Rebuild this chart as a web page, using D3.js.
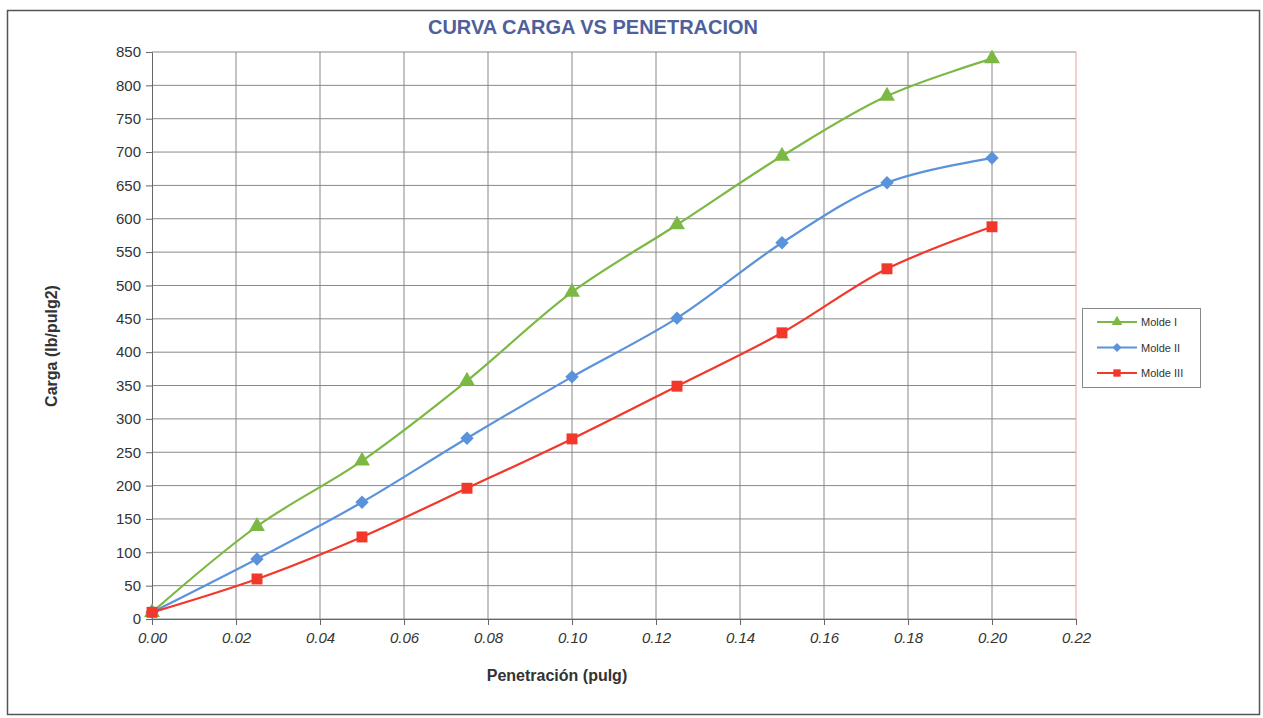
<!DOCTYPE html>
<html><head><meta charset="utf-8">
<script src="https://cdn.jsdelivr.net/npm/d3@7"></script>
<style>body{margin:0;background:#fff;}svg{display:block;font-family:"Liberation Sans",Arial,sans-serif;}</style>
</head><body><svg id="c" width="1263" height="718"></svg>
<script>
const penetracion = [0.0, 0.025, 0.05, 0.075, 0.10, 0.125, 0.15, 0.175, 0.20];
const moldeI   = [10, 139, 237, 357, 490, 591, 694, 784, 840];
const moldeII  = [10, 90, 175, 271, 363, 451, 564, 654, 691];
const moldeIII = [10, 60, 123, 196, 270, 349, 429, 525, 588];
const seriesNames = ["Molde I", "Molde II", "Molde III"];
const xTicks = [0, 0.02, 0.04, 0.06, 0.08, 0.10, 0.12, 0.14, 0.16, 0.18, 0.20, 0.22];
const yTicks = d3.range(0, 851, 50);

const svg = d3.select("#c");
const L = 152, R = 1076, T = 52, B = 619;
const x = d3.scaleLinear().domain([0, 0.22]).range([L, R]);
const y = d3.scaleLinear().domain([0, 850]).range([B, T]);

// outer border
svg.append("rect").attr("x", 7.5).attr("y", 10.5).attr("width", 1252).attr("height", 704)
  .attr("fill", "#fff").attr("stroke", "#555").attr("stroke-width", 1.5);

// title
svg.append("text").attr("x", 593).attr("y", 34).attr("text-anchor", "middle")
  .attr("font-size", 20).attr("font-weight", "bold").attr("fill", "#4f5f9c").text("CURVA CARGA VS PENETRACION");

// grid
const g = svg.append("g");
g.selectAll(".hg").data(yTicks).enter().append("line")
  .attr("x1", L).attr("x2", R).attr("y1", d => y(d)).attr("y2", d => y(d))
  .attr("stroke", "#888").attr("stroke-width", 1);
g.selectAll(".vg").data(xTicks.slice(1)).enter().append("line")
  .attr("y1", T).attr("y2", B).attr("x1", d => x(d)).attr("x2", d => x(d))
  .attr("stroke", d => d === 0.22 ? "#e8a0a0" : "#888").attr("stroke-width", 1);

// axes
const yAxis = d3.axisLeft(y).tickValues(yTicks).tickSize(6).tickPadding(5).tickFormat(d3.format("d"));
const ya = svg.append("g").attr("transform", `translate(${L},0)`).call(yAxis);
ya.selectAll("text").attr("font-size", 15).attr("fill", "#333").attr("font-family", "Liberation Sans, Arial");
ya.selectAll("line,path").attr("stroke", "#666");
const xAxis = d3.axisBottom(x).tickValues(xTicks).tickSize(6).tickPadding(7).tickFormat(d3.format(".2f"));
const xa = svg.append("g").attr("transform", `translate(0,${B})`).call(xAxis);
xa.selectAll("text").attr("font-size", 15).attr("font-style", "italic").attr("fill", "#333").attr("font-family", "Liberation Sans, Arial");
xa.selectAll("line,path").attr("stroke", "#666");

// axis titles
svg.append("text").attr("transform", "translate(57,346) rotate(-90)").attr("text-anchor", "middle")
  .attr("font-size", 16).attr("font-weight", "bold").attr("fill", "#333").text("Carga (lb/pulg2)");
svg.append("text").attr("x", 557).attr("y", 681).attr("text-anchor", "middle")
  .attr("font-size", 16).attr("font-weight", "bold").attr("fill", "#333").text("Penetración (pulg)");

const colors = ["#7cb944", "#5a93dc", "#f2372b"];
const diamond = { draw(ctx, size) { const r = Math.sqrt(size / 2); ctx.moveTo(0, -r); ctx.lineTo(r, 0); ctx.lineTo(0, r); ctx.lineTo(-r, 0); ctx.closePath(); } };
const shapes = [d3.symbolTriangle, diamond, d3.symbolSquare];
const sizes = [110, 90, 120];
const data = [moldeI, moldeII, moldeIII];
const line = d3.line().x(d => x(d[0])).y(d => y(d[1])).curve(d3.curveCatmullRom.alpha(0.5));

data.forEach((vals, i) => {
  const pts = penetracion.map((p, j) => [p, vals[j]]);
  svg.append("path").datum(pts).attr("d", line).attr("fill", "none")
    .attr("stroke", colors[i]).attr("stroke-width", 2.2);
  svg.selectAll(".m" + i).data(pts).enter().append("path")
    .attr("transform", d => `translate(${x(d[0])},${y(d[1])})`)
    .attr("d", d3.symbol().type(shapes[i]).size(sizes[i])).attr("fill", colors[i]);
});

// legend
const lg = svg.append("g");
lg.append("rect").attr("x", 1082.5).attr("y", 308.5).attr("width", 118).attr("height", 79)
  .attr("fill", "#fff").attr("stroke", "#888");
seriesNames.forEach((n, i) => {
  const yy = 322 + i * 25.5;
  lg.append("line").attr("x1", 1097).attr("x2", 1137).attr("y1", yy).attr("y2", yy)
    .attr("stroke", colors[i]).attr("stroke-width", 2);
  lg.append("path").attr("transform", `translate(1117,${yy})`)
    .attr("d", d3.symbol().type(shapes[i]).size(sizes[i] * 0.45)).attr("fill", colors[i]);
  lg.append("text").attr("x", 1141).attr("y", yy + 4).attr("font-size", 11).attr("fill", "#333").text(n);
});
</script></body></html>
